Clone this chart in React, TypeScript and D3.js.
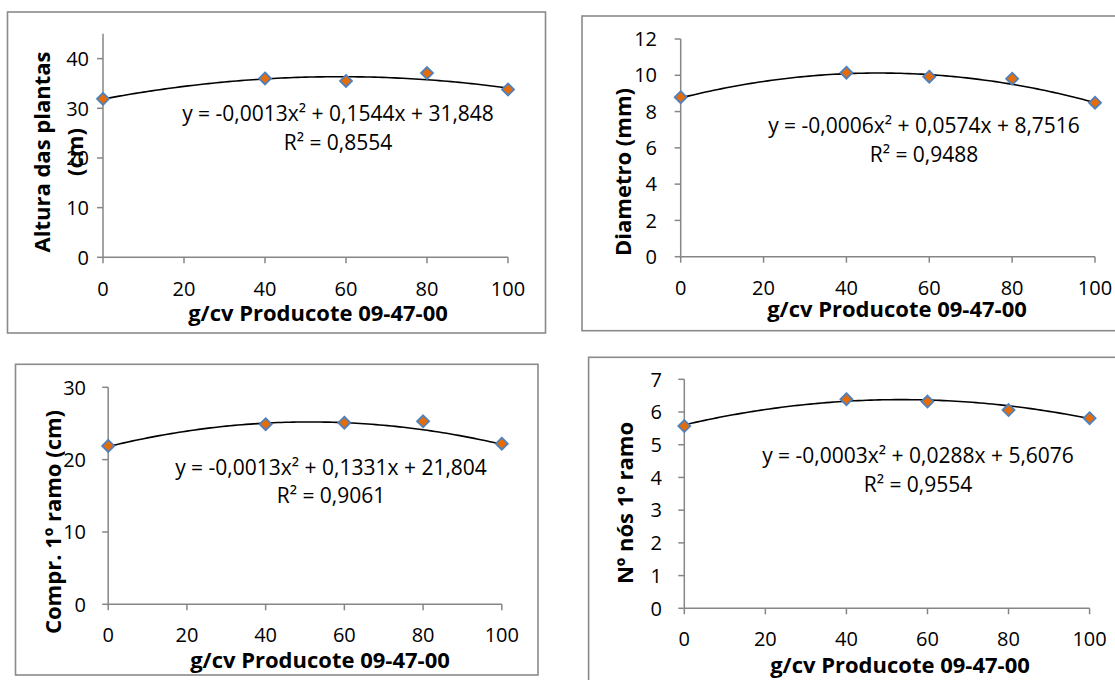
import React from "react";
import * as d3 from "d3";

// ---- data ----
const doses = [0, 40, 60, 80, 100];
const xTicks = [0, 20, 40, 60, 80, 100];

const altura = [31.9, 36.0, 35.5, 37.1, 33.8];
const alturaCoef = [-0.00132, 0.1544, 31.848];
const alturaEq = ["y = -0,0013x² + 0,1544x + 31,848", "R² = 0,8554"];
const alturaTicks = [0, 10, 20, 30, 40];

const diametro = [8.79, 10.14, 9.92, 9.81, 8.49];
const diametroCoef = [-0.0006, 0.0574, 8.7516];
const diametroEq = ["y = -0,0006x² + 0,0574x + 8,7516", "R² = 0,9488"];
const diametroTicks = [0, 2, 4, 6, 8, 10, 12];

const comprimento = [21.9, 24.9, 25.1, 25.3, 22.2];
const comprimentoCoef = [-0.0013, 0.1331, 21.804];
const comprimentoEq = ["y = -0,0013x² + 0,1331x + 21,804", "R² = 0,9061"];
const comprimentoTicks = [0, 10, 20, 30];

const nos = [5.57, 6.39, 6.32, 6.06, 5.81];
const nosCoef = [-0.000269, 0.0288, 5.6076];
const nosEq = ["y = -0,0003x² + 0,0288x + 5,6076", "R² = 0,9554"];
const nosTicks = [0, 1, 2, 3, 4, 5, 6, 7];

const xTitle = "g/cv Producote 09-47-00";

const FONT = "'Open Sans', 'Noto Sans', sans-serif";
const AXIS = "#868686";
const FRAME = "#8a8a8a";

type PanelCfg = {
  frame: [number, number, number, number];
  x0: number; x1: number;
  yBottom: number; yTop: number;
  yMax: number;
  values: number[];
  coef: number[];
  eq: string[];
  eqX: number; eqY: number; r2Y: number;
  yTicks: number[];
  yLabelRight: number;
  xLabelY: number;
  xTitleX: number; xTitleY: number;
  yTitle: string[];
  yTitleX: number[]; yTitleY: number;
};

function Panel({ c }: { c: PanelCfg }) {
  const xs = d3.scaleLinear().domain([0, 100]).range([c.x0, c.x1]);
  const ys = d3.scaleLinear().domain([0, c.yMax]).range([c.yBottom, c.yTop]);
  const f = (x: number) => c.coef[0] * x * x + c.coef[1] * x + c.coef[2];
  const line = d3
    .line<number>()
    .x((d) => xs(d))
    .y((d) => ys(f(d)))
    .curve(d3.curveLinear);
  const pts = d3.range(0, 100.01, 1);
  const [fx, fy, fw, fh] = c.frame;
  const tickLen = 6;
  return (
    <g>
      <rect x={fx} y={fy} width={fw} height={fh} fill="#fff" stroke={FRAME} strokeWidth={1.6} />
      <line x1={xs(0)} x2={xs(0)} y1={ys(0)} y2={ys(c.yMax)} stroke={AXIS} strokeWidth={1.5} />
      <line x1={xs(0)} x2={xs(100)} y1={ys(0)} y2={ys(0)} stroke={AXIS} strokeWidth={1.5} />
      {c.yTicks.map((t) => (
        <g key={"y" + t}>
          <line x1={xs(0) - tickLen} x2={xs(0)} y1={ys(t)} y2={ys(t)} stroke={AXIS} strokeWidth={1.5} />
          <text x={c.yLabelRight} y={ys(t)} dy="0.36em" textAnchor="end" fontSize={20} fontFamily={FONT} fill="#000">
            {t}
          </text>
        </g>
      ))}
      {xTicks.map((t) => (
        <g key={"x" + t}>
          <line x1={xs(t)} x2={xs(t)} y1={ys(0)} y2={ys(0) + tickLen} stroke={AXIS} strokeWidth={1.5} />
          <text x={xs(t)} y={c.xLabelY} textAnchor="middle" fontSize={20} fontFamily={FONT} fill="#000">
            {t}
          </text>
        </g>
      ))}
      <path d={line(pts) || ""} fill="none" stroke="#000" strokeWidth={1.6} />
      {doses.map((d, i) => {
        const cx = xs(d);
        const cy = ys(c.values[i]);
        const r = 6;
        return (
          <path
            key={"m" + i}
            d={`M${cx},${cy - r}L${cx + r},${cy}L${cx},${cy + r}L${cx - r},${cy}Z`}
            fill="#E46C0A"
            stroke="#4F81BD"
            strokeWidth={1.8}
          />
        );
      })}
      <text x={c.eqX} y={c.eqY} textAnchor="middle" fontSize={21} fontFamily={FONT} fill="#000">
        {c.eq[0]}
      </text>
      <text x={c.eqX} y={c.r2Y} textAnchor="middle" fontSize={21} fontFamily={FONT} fill="#000">
        {c.eq[1]}
      </text>
      <text x={c.xTitleX} y={c.xTitleY} textAnchor="middle" fontSize={22} fontWeight="bold" fontFamily={FONT} fill="#000">
        {xTitle}
      </text>
      {c.yTitle.map((t, i) => (
        <text
          key={"yt" + i}
          transform={`translate(${c.yTitleX[i]},${c.yTitleY}) rotate(-90)`}
          textAnchor="middle"
          fontSize={22}
          fontWeight="bold"
          fontFamily={FONT}
          fill="#000"
        >
          {t}
        </text>
      ))}
    </g>
  );
}

const panels: PanelCfg[] = [
  {
    frame: [7.5, 12, 538, 321],
    x0: 103, x1: 508, yBottom: 257.3, yTop: 33.8, yMax: 45,
    values: altura, coef: alturaCoef, eq: alturaEq,
    eqX: 338, eqY: 121, r2Y: 150,
    yTicks: alturaTicks, yLabelRight: 89, xLabelY: 296,
    xTitleX: 318, xTitleY: 321,
    yTitle: ["Altura das plantas", "(cm)"], yTitleX: [50, 83], yTitleY: 152,
  },
  {
    frame: [582, 16, 600, 314.7],
    x0: 680.7, x1: 1095, yBottom: 256.7, yTop: 39, yMax: 12,
    values: diametro, coef: diametroCoef, eq: diametroEq,
    eqX: 924, eqY: 133, r2Y: 162,
    yTicks: diametroTicks, yLabelRight: 657, xLabelY: 295,
    xTitleX: 897, xTitleY: 317,
    yTitle: ["Diametro (mm)"], yTitleX: [631], yTitleY: 172,
  },
  {
    frame: [15.5, 364.3, 522.5, 310.7],
    x0: 108.2, x1: 501.8, yBottom: 604.3, yTop: 387.3, yMax: 30,
    values: comprimento, coef: comprimentoCoef, eq: comprimentoEq,
    eqX: 331, eqY: 475, r2Y: 503,
    yTicks: comprimentoTicks, yLabelRight: 86, xLabelY: 642,
    xTitleX: 320, xTitleY: 668,
    yTitle: ["Compr. 1º ramo (cm)"], yTitleX: [61], yTitleY: 522,
  },
  {
    frame: [588.6, 357.3, 600, 400],
    x0: 684.3, x1: 1089.6, yBottom: 608.3, yTop: 379.3, yMax: 7,
    values: nos, coef: nosCoef, eq: nosEq,
    eqX: 918, eqY: 463, r2Y: 492,
    yTicks: nosTicks, yLabelRight: 662, xLabelY: 646,
    xTitleX: 900, xTitleY: 673,
    yTitle: ["Nº nós 1º ramo"], yTitleX: [633], yTitleY: 503,
  },
];

export default function App() {
  return (
    <svg
      width={1115}
      height={680}
      viewBox="0 0 1115 680"
      style={{ position: "absolute", left: 0, top: 0, background: "#fff" }}
    >
      <rect x={0} y={0} width={1115} height={680} fill="#fff" />
      {panels.map((p, i) => (
        <Panel key={i} c={p} />
      ))}
    </svg>
  );
}
